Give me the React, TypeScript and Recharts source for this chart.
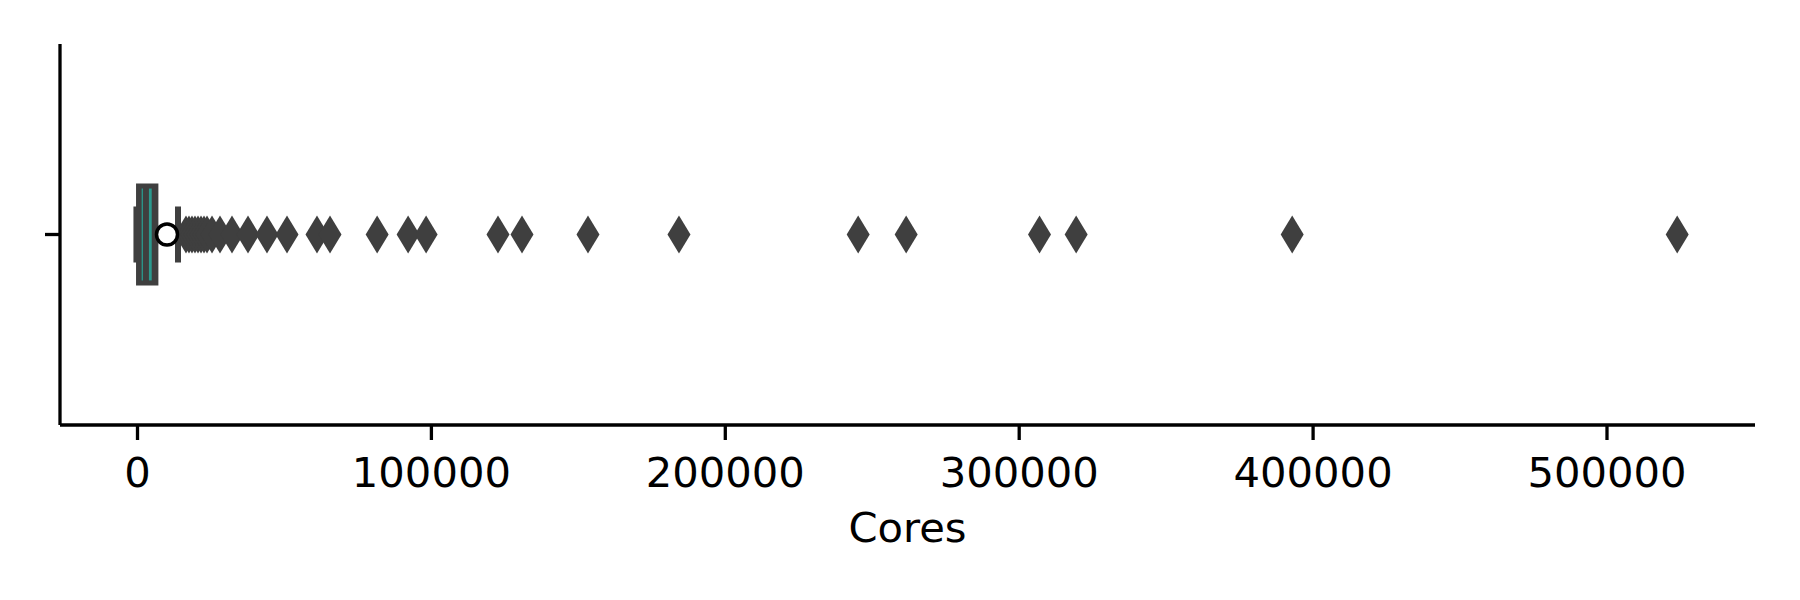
import React from 'react';
import { ScatterChart, Scatter, XAxis, YAxis, ReferenceArea, ReferenceLine } from 'recharts';

// Outlier core counts
const outlierCores = [
  16500, 17520, 18540, 19560, 20590, 21610, 22630, 23650, 25350, 28070, 32150,
  37600, 44060, 50870, 61070, 65500, 81540, 92080, 98200,
  122660, 130830, 153280, 184240, 245210, 261540, 306910, 319380, 392890, 523890,
];
const meanCores = [10040];
// box statistics
const whiskers = [-700, 13780];
const boxEdges = [-500, 7110];
const innerLines = [1630, 4360];
const xTicks = [0, 100000, 200000, 300000, 400000, 500000];
const xDomain = [-26370, 550360];

const DARK = '#3f3f3f';
const TEAL = '#2a9a8e';
const FONT = '"DejaVu Sans", sans-serif';
const FS = 41.7;

const outlierData = outlierCores.map((v) => ({ v, y: 0 }));
const meanData = meanCores.map((v) => ({ v, y: 0 }));

const Diamond = (props: any) => {
  const { cx, cy } = props;
  const hw = 11.5;
  const hh = 19;
  return (
    <polygon
      points={`${cx},${cy - hh} ${cx + hw},${cy} ${cx},${cy + hh} ${cx - hw},${cy}`}
      fill={DARK}
    />
  );
};

const MeanMarker = (props: any) => {
  const { cx, cy } = props;
  return <circle cx={cx} cy={cy} r={10.5} fill="#fff" stroke="#000" strokeWidth={3.5} />;
};

const BOX_HALF = 0.268;
const CAP_HALF = 0.147;

export default function App() {
  return (
    <div style={{ position: 'absolute', left: 0, top: 0, width: 1800, height: 600, background: '#fff' }}>
      <ScatterChart width={1800} height={600} margin={{ top: 44, right: 45, bottom: 55, left: 0 }}>
        <XAxis
          type="number"
          dataKey="v"
          domain={xDomain}
          allowDataOverflow
          ticks={xTicks}
          height={120}
          tickSize={15}
          tickMargin={17}
          axisLine={{ stroke: '#000', strokeWidth: 3.3 }}
          tickLine={{ stroke: '#000', strokeWidth: 3.3 }}
          tick={{ fill: '#000', fontSize: FS, fontFamily: FONT }}
          label={{
            content: (p: any) => {
              const vb = p.viewBox;
              return (
                <text
                  x={vb.x + vb.width / 2}
                  y={vb.y + 117}
                  textAnchor="middle"
                  fontSize={FS}
                  fontFamily={FONT}
                  fill="#000"
                >
                  Cores
                </text>
              );
            },
          }}
        />
        <YAxis
          type="number"
          dataKey="y"
          domain={[-1, 1]}
          ticks={[0]}
          width={60}
          tickSize={15}
          tickFormatter={() => ''}
          axisLine={{ stroke: '#000', strokeWidth: 3.3 }}
          tickLine={{ stroke: '#000', strokeWidth: 3.3 }}
        />
        <ReferenceArea
          x1={boxEdges[0]}
          x2={boxEdges[1]}
          y1={-BOX_HALF}
          y2={BOX_HALF}
          fill={DARK}
          fillOpacity={1}
          stroke="none"
        />
        <ReferenceLine
          segment={[{ x: innerLines[0], y: -BOX_HALF * 0.9 }, { x: innerLines[0], y: BOX_HALF * 0.9 }]}
          stroke={TEAL}
          strokeWidth={1.3}
        />
        <ReferenceLine
          segment={[{ x: innerLines[1], y: -BOX_HALF * 0.9 }, { x: innerLines[1], y: BOX_HALF * 0.9 }]}
          stroke={TEAL}
          strokeWidth={2.8}
        />
        <ReferenceLine
          segment={[{ x: whiskers[0], y: -CAP_HALF }, { x: whiskers[0], y: CAP_HALF }]}
          stroke={DARK}
          strokeWidth={4}
        />
        <ReferenceLine
          segment={[{ x: boxEdges[1], y: 0 }, { x: whiskers[1], y: 0 }]}
          stroke={DARK}
          strokeWidth={3}
        />
        <ReferenceLine
          segment={[{ x: whiskers[1], y: -CAP_HALF }, { x: whiskers[1], y: CAP_HALF }]}
          stroke={DARK}
          strokeWidth={6}
        />
        <Scatter data={outlierData} shape={Diamond} isAnimationActive={false} />
        <Scatter data={meanData} shape={MeanMarker} isAnimationActive={false} />
      </ScatterChart>
    </div>
  );
}
